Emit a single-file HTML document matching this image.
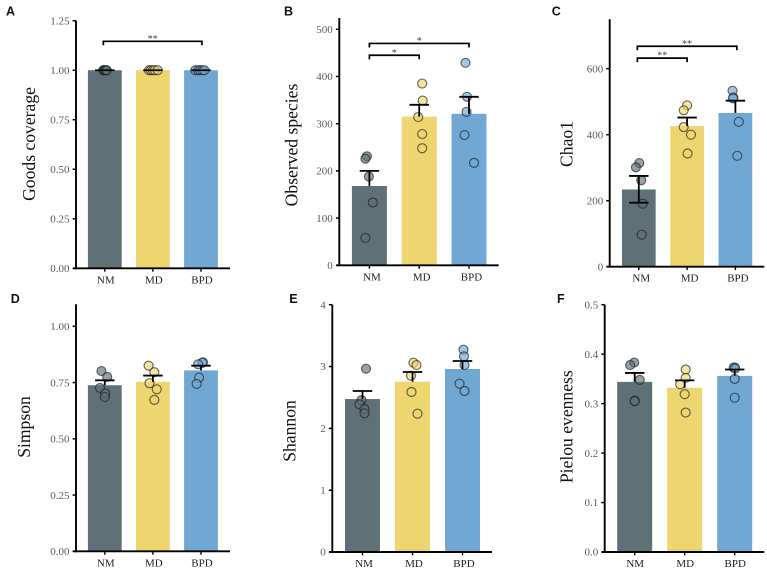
<!DOCTYPE html>
<html lang="en">
<head>
<meta charset="utf-8">
<title>Alpha diversity bar charts</title>
<style>
html,body{margin:0;padding:0;background:#fff;width:767px;height:569px;overflow:hidden}
svg{display:block;filter:blur(0.35px)}
text{font-family:"Liberation Serif",serif}
.letter{font-family:"Liberation Sans",sans-serif;font-weight:bold;font-size:12.5px;fill:#111}
</style>
</head>
<body>
<svg id="figure" width="767" height="569" viewBox="0 0 767 569" xmlns="http://www.w3.org/2000/svg"></svg>
<script>
const categories = ['NM', 'MD', 'BPD'];

const aTicks = ['0.00', '0.25', '0.50', '0.75', '1.00', '1.25'];
const aMeans = [1.0, 1.0, 1.0];
const aErrHigh = [1.0, 1.0, 1.0];
const aErrLow = [1.0, 1.0, 1.0];
const aValues = [[1, 1, 1, 1, 1], [1, 1, 1, 1, 1], [1, 1, 1, 1, 1]];
const aJitter = [[-0.03, -0.02, 0, 0.03, 0.04], [-0.08, -0.04, 0, 0.04, 0.1], [-0.12, -0.06, -0.02, 0.03, 0.07]];
const aBrackets = [{from: -0.03, to: 2.02, level: 1.146, label: '**'}];

const bTicks = ['0', '100', '200', '300', '400', '500'];
const bMeans = [168, 315, 321];
const bErrHigh = [200, 340, 357];
const bErrLow = [168, 315, 321];
const bValues = [[231, 226, 188, 133, 58], [385, 349, 314, 278, 248], [429, 357, 325, 276, 217]];
const bJitter = [[-0.05, -0.08, -0.01, 0.07, -0.08], [0.06, 0.07, -0.02, 0.06, 0.06], [-0.07, -0.04, -0.05, -0.09, 0.1]];
const bBrackets = [{from: 0, to: 2, level: 470, label: '*'}, {from: 0, to: 1, level: 445, label: '*'}];

const cTicks = ['0', '200', '400', '600'];
const cMeans = [234, 426, 466];
const cErrHigh = [275, 452, 503];
const cErrLow = [194, 426, 466];
const cValues = [[314, 301, 262, 191, 97], [489, 474, 423, 400, 343], [533, 513, 510, 439, 336]];
const cJitter = [[0.01, -0.06, 0.05, 0.08, 0.06], [0, -0.07, -0.07, 0.08, 0.01], [-0.06, -0.04, -0.05, 0.07, 0.04]];
const cBrackets = [{from: -0.03, to: 2.03, level: 668, label: '**'}, {from: -0.03, to: 1, level: 632, label: '**'}];

const dTicks = ['0.00', '0.25', '0.50', '0.75', '1.00'];
const dMeans = [0.738, 0.753, 0.804];
const dErrHigh = [0.76, 0.781, 0.825];
const dErrLow = [0.738, 0.753, 0.804];
const dValues = [[0.801, 0.775, 0.726, 0.702, 0.686], [0.825, 0.796, 0.747, 0.72, 0.673], [0.84, 0.838, 0.831, 0.772, 0.744]];
const dJitter = [[-0.07, 0.05, -0.1, 0.01, 0], [-0.09, 0.03, -0.07, 0.08, 0.03], [0.04, 0.03, -0.06, -0.04, -0.09]];

const eTicks = ['0', '1', '2', '3', '4'];
const eMeans = [2.474, 2.755, 2.96];
const eErrHigh = [2.604, 2.911, 3.089];
const eErrLow = [2.474, 2.755, 2.96];
const eValues = [[2.965, 2.458, 2.388, 2.313, 2.243], [3.062, 3.024, 2.852, 2.588, 2.237], [3.272, 3.164, 3.024, 2.722, 2.604]];
const eJitter = [[0.07, -0.02, -0.06, 0.04, 0.04], [0.02, 0.08, -0.03, -0.02, 0.1], [0.02, 0.03, 0.04, -0.06, 0.04]];

const fTicks = ['0.0', '0.1', '0.2', '0.3', '0.4', '0.5'];
const fMeans = [0.344, 0.332, 0.356];
const fErrHigh = [0.362, 0.347, 0.369];
const fErrLow = [0.344, 0.332, 0.356];
const fValues = [[0.383, 0.378, 0.348, 0.306, 0.305], [0.369, 0.352, 0.339, 0.319, 0.282], [0.373, 0.373, 0.371, 0.35, 0.312]];
const fJitter = [[-0.01, -0.09, 0.1, 0, 0], [0.02, 0.02, -0.09, 0, 0.02], [0, -0.02, 0.01, 0, 0]];

const barColors = ['#5f7076', '#edd56f', '#70a8d3'];

const panels = [
  {id: 'a', letter: 'A', lx: 6, ly: 15.7, title: 'Goods coverage', tx: 35, ty: 144,
   axisX: 76, y0: 268.3, yMaxPx: 20.7, yMax: 1.25, axisTop: 20.7, xEnd: 230, first: 104.8, step: 48.1, barW: 33.8, labelDx: 1,
   ticks: aTicks, means: aMeans, hi: aErrHigh, lo: aErrLow, values: aValues, jitter: aJitter, brackets: aBrackets},
  {id: 'b', letter: 'B', lx: 284, ly: 15.7, title: 'Observed species', tx: 297.5, ty: 145,
   axisX: 339.3, y0: 265.3, yMaxPx: 29.3, yMax: 500, axisTop: 18, xEnd: 498.7, first: 369.4, step: 49.8, barW: 35, labelDx: 2.5,
   ticks: bTicks, means: bMeans, hi: bErrHigh, lo: bErrLow, values: bValues, jitter: bJitter, brackets: bBrackets},
  {id: 'c', letter: 'C', lx: 551.7, ly: 15.7, title: 'Chao1', tx: 572.5, ty: 144,
   axisX: 609.7, y0: 266.7, yMaxPx: 68.7, yMax: 600, axisTop: 19.3, xEnd: 764.3, first: 638.8, step: 48.3, barW: 33.7, labelDx: 2.5,
   ticks: cTicks, means: cMeans, hi: cErrHigh, lo: cErrLow, values: cValues, jitter: cJitter, brackets: cBrackets},
  {id: 'd', letter: 'D', lx: 10.7, ly: 303, title: 'Simpson', tx: 30, ty: 427,
   axisX: 76, y0: 551.3, yMaxPx: 326.3, yMax: 1, axisTop: 304.3, xEnd: 230, first: 104.8, step: 48.1, barW: 33.8, labelDx: 1,
   ticks: dTicks, means: dMeans, hi: dErrHigh, lo: dErrLow, values: dValues, jitter: dJitter, brackets: []},
  {id: 'e', letter: 'E', lx: 289.3, ly: 303, title: 'Shannon', tx: 295.5, ty: 431,
   axisX: 332.3, y0: 552, yMaxPx: 304.7, yMax: 4, axisTop: 304.7, xEnd: 492, first: 362.5, step: 50, barW: 35, labelDx: 1.5,
   ticks: eTicks, means: eMeans, hi: eErrHigh, lo: eErrLow, values: eValues, jitter: eJitter, brackets: []},
  {id: 'f', letter: 'F', lx: 557, ly: 303, title: 'Pielou evenness', tx: 572.5, ty: 426.7,
   axisX: 604.7, y0: 552, yMaxPx: 304.7, yMax: 0.5, axisTop: 304.7, xEnd: 764.3, first: 634.7, step: 50, barW: 35, labelDx: 0.5,
   ticks: fTicks, means: fMeans, hi: fErrHigh, lo: fErrLow, values: fValues, jitter: fJitter, brackets: []}
];

const NS = 'http://www.w3.org/2000/svg';
function mk(parent, tag, attrs, txt) {
  const n = document.createElementNS(NS, tag);
  for (const k in attrs) n.setAttribute(k, attrs[k]);
  if (txt !== undefined) n.textContent = txt;
  parent.appendChild(n);
  return n;
}

const figure = document.getElementById('figure');

panels.forEach(function (p) {
  const yScale = function (v) { return p.y0 - (v / p.yMax) * (p.y0 - p.yMaxPx); };
  const xScale = function (i) { return p.first + i * p.step; };

  const g = mk(figure, 'g', {});
  
  

  const letter = mk(g, 'text', {x: p.lx, y: p.ly, class: 'letter'}, p.letter);
  
  

  categories.forEach(function (cat, i) {
    const top = yScale(p.means[i]);
    const bar = mk(g, 'rect', {x: xScale(i) - p.barW / 2, y: top, width: p.barW, height: p.y0 - top, fill: barColors[i]});
    
    
  });

  categories.forEach(function (cat, i) {
    p.values[i].forEach(function (v, j) {
      const pt = mk(g, 'circle', {cx: xScale(i + p.jitter[i][j]), cy: yScale(v), r: 4.5,
        fill: barColors[i], 'fill-opacity': 0.65, stroke: '#1c1c1c', 'stroke-opacity': 0.65, 'stroke-width': 1.15});
      
      
    });
  });

  categories.forEach(function (cat, i) {
    const cx = xScale(i);
    const yHi = yScale(p.hi[i]);
    const yLo = yScale(p.lo[i]);
    const stem = mk(g, 'line', {x1: cx, x2: cx, y1: yHi, y2: yLo, stroke: '#000', 'stroke-width': 1.8});
    
    
    const capHi = mk(g, 'line', {x1: cx - 9.7, x2: cx + 9.7, y1: yHi, y2: yHi, stroke: '#000', 'stroke-width': 1.8});
    
    
    if (p.lo[i] < p.means[i]) {
      const capLo = mk(g, 'line', {x1: cx - 9.7, x2: cx + 9.7, y1: yLo, y2: yLo, stroke: '#000', 'stroke-width': 1.8});
      
      
    }
  });

  const yAxis = mk(g, 'line', {x1: p.axisX, x2: p.axisX, y1: p.axisTop, y2: p.y0 + 0.9, stroke: '#000', 'stroke-width': 1.9});
  
  
  const xAxis = mk(g, 'line', {x1: p.axisX - 3, x2: p.xEnd, y1: p.y0, y2: p.y0, stroke: '#000', 'stroke-width': 1.9});
  
  

  p.ticks.forEach(function (t) {
    const ty = yScale(parseFloat(t));
    const tick = mk(g, 'line', {x1: p.axisX - 3.4, x2: p.axisX, y1: ty, y2: ty, stroke: '#000', 'stroke-width': 1.5});
    
    
    const lab = mk(g, 'text', {x: p.axisX - 6.5, y: ty + 3.7, 'text-anchor': 'end', 'font-size': 11, fill: '#5a5a5a'}, t);
    
    
  });

  categories.forEach(function (cat, i) {
    const cx = xScale(i);
    const tick = mk(g, 'line', {x1: cx, x2: cx, y1: p.y0, y2: p.y0 + 3.4, stroke: '#000', 'stroke-width': 1.4});
    
    
    const lab = mk(g, 'text', {x: cx + p.labelDx, y: p.y0 + 15, 'text-anchor': 'middle', 'font-size': 11, fill: '#222'}, cat);
    
    
  });

  const title = mk(g, 'text', {transform: 'translate(' + p.tx + ',' + p.ty + ') rotate(-90)', 'text-anchor': 'middle', 'font-size': 17.6, fill: '#111'}, p.title);
  
  

  p.brackets.forEach(function (b) {
    const by = yScale(b.level);
    const x1 = xScale(b.from);
    const x2 = xScale(b.to);
    const path = mk(g, 'path', {d: 'M' + x1 + ' ' + (by + 4) + 'V' + by + 'H' + x2 + 'V' + (by + 4), fill: 'none', stroke: '#000', 'stroke-width': 1.7});
    
    
    const star = mk(g, 'text', {x: (x1 + x2) / 2, y: by + 0.5, 'text-anchor': 'middle', 'font-size': 10, fill: '#444'}, b.label);
    
    
  });
});
</script>
</body>
</html>
